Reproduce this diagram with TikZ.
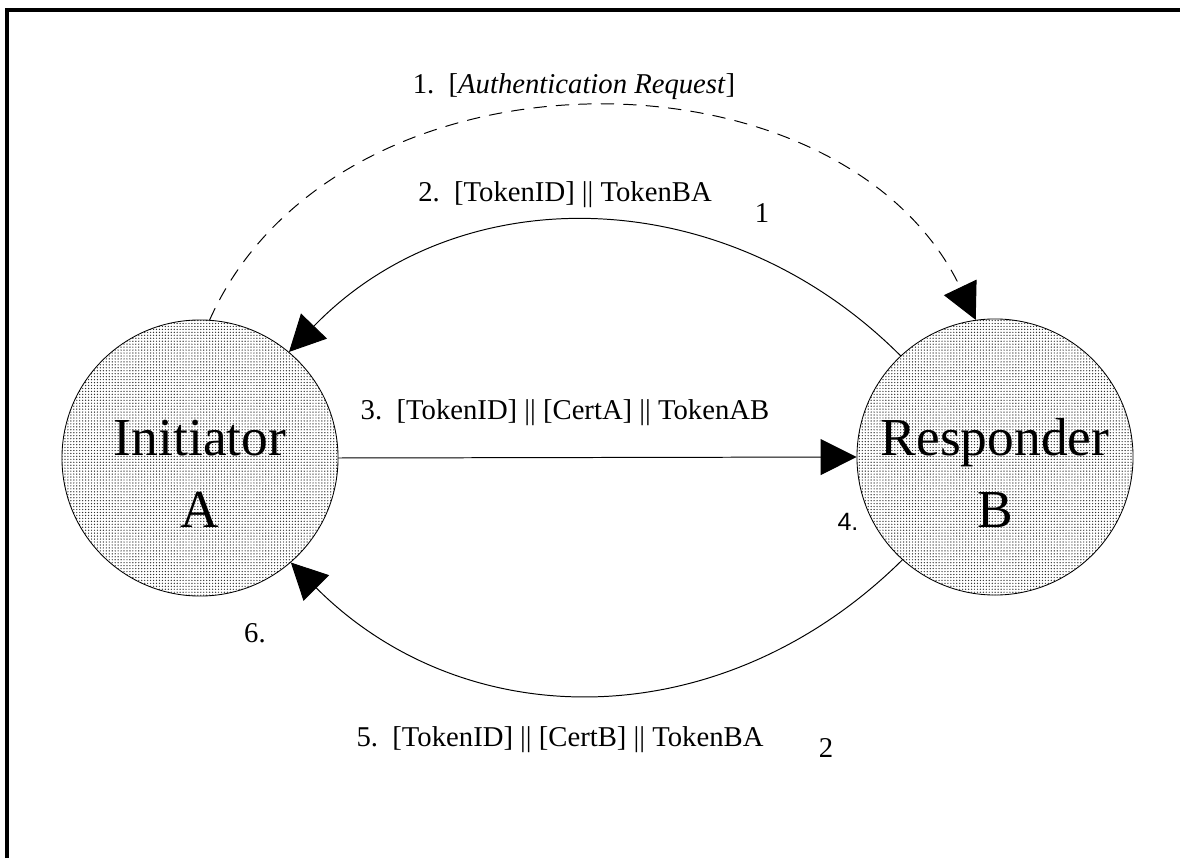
\documentclass[tikz,border=0pt]{standalone}
\usepackage{fontspec}
\setmainfont{Liberation Serif}
\newfontfamily\labelsans{Liberation Sans}
\usetikzlibrary{arrows.meta, patterns.meta, positioning}

\tikzdeclarepattern{
  name=finedots,
  type=uncolored,
  bounding box={(-0.6pt,-0.6pt) and (0.6pt,0.6pt)},
  tile size={(2.1pt,2.1pt)},
  code={\fill (0pt,0pt) circle (0.5pt);}
}

\begin{document}
\begin{tikzpicture}[x=0.025cm, y=0.025cm, line cap=round,
    party/.style={circle, draw, line width=0.6pt, minimum size=6.9cm, inner sep=0pt, pattern=finedots, pattern color=black!80},
    partytext/.style={align=center, font=\fontsize{38}{51}\selectfont},
    msg/.style={font=\fontsize{20.4}{24}\selectfont},
    flow/.style={line width=0.7pt, -{Triangle[length=0.9cm, width=0.9cm]}}]
        \useasboundingbox (0,0) rectangle (1180,858);
        \draw[line width=2.2pt, line cap=butt] (7,0) -- (7,848) -- (1180,848);

        % the two parties
        \node[party] (A) at (200,400) {};
        \node[party] (B) at (995,401) {};
        \node[partytext] (Atext) at ([yshift=-0.4cm]A.center) {Initiator\\A};
        \node[partytext] (Btext) at ([yshift=-0.4cm]B.center) {Responder\\B};

        % messages
        \draw[flow, dash pattern=on 9pt off 7pt] (A.86) .. controls +(127,284) and +(-134,281) .. (B.98);
        \draw[flow] (B.133) .. controls +(-177,177) and +(169,175) .. (A.50);
        \draw[flow] (A.east) -- (B.west);
        \draw[flow] (B.228) .. controls +(-179,-177) and +(176,-176) .. (A.311);

        % labels
        \node[msg] (m1) at (574,771) {1.\ \ [\textit{Authentication Request}]};
        \node[msg] (m2) at (565,663) {2.\ \ [TokenID] || TokenBA};
        \node[msg] (n1) at (762,645) {1};
        \node[msg] (m3) at (565,445) {3.\ \ [TokenID] || [CertA] || TokenAB};
        \node[font=\labelsans\fontsize{17.8}{20}\selectfont] (m4) at (848,336) {4.};
        \node[msg] (m6) at (255,225) {6.};
        \node[msg] (m5) at (560,118) {5.\ \ [TokenID] || [CertB] || TokenBA};
        \node[msg] (n2) at (826,110) {2};
    \end{tikzpicture}
\end{document}
